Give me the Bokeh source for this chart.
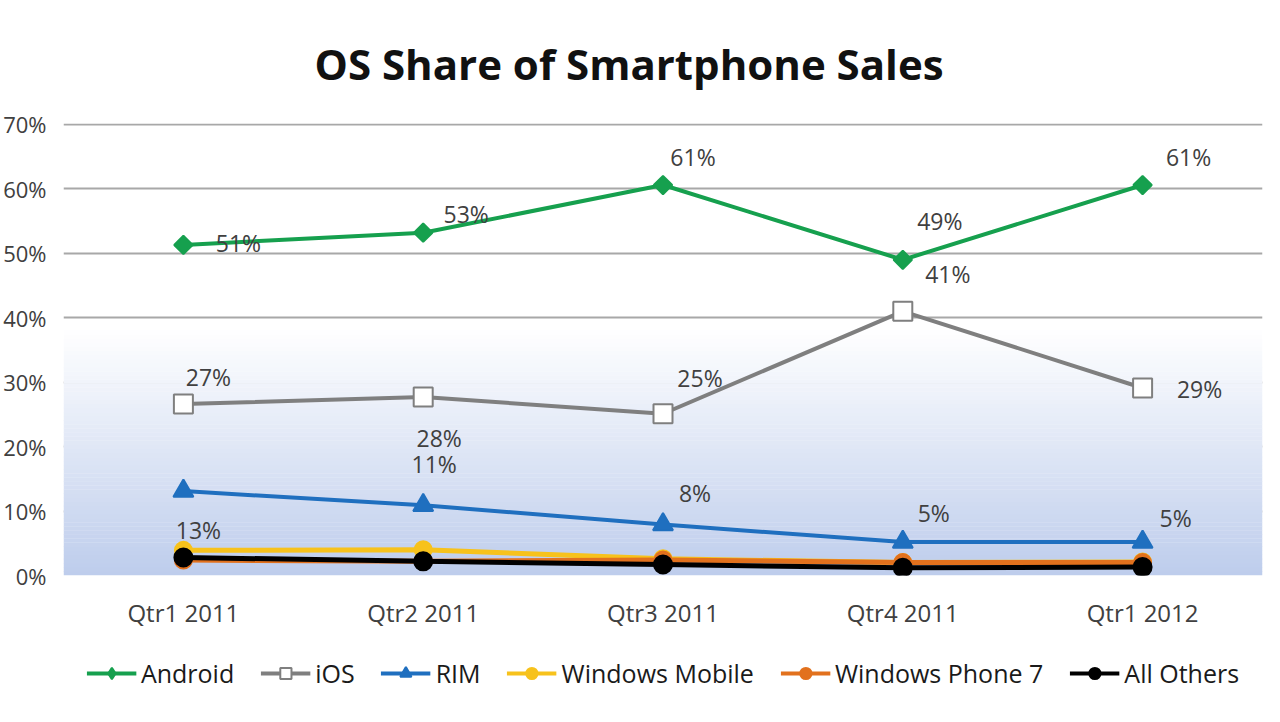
import math
from bokeh.plotting import figure
from bokeh.layouts import column
from bokeh.models import (FactorRange, Range1d, FixedTicker, PrintfTickFormatter,
                          Legend, LegendItem, BoxAnnotation, ColumnDataSource)
from bokeh.core.properties import value
from bokeh.embed import file_html
from bokeh.resources import INLINE

quarters = ["Qtr1 2011", "Qtr2 2011", "Qtr3 2011", "Qtr4 2011", "Qtr1 2012"]
android = [51.3, 53.2, 60.6, 49.0, 60.6]
ios = [26.6, 27.7, 25.1, 41.0, 29.1]
rim = [13.1, 10.9, 7.9, 5.2, 5.2]
windows_mobile = [3.9, 4.0, 2.6, 2.0, 2.1]
windows_phone7 = [2.4, 2.2, 2.4, 2.0, 2.0]
all_others = [2.8, 2.2, 1.7, 1.2, 1.3]
y_ticks = [0, 10, 20, 30, 40, 50, 60, 70]

FONT = "Open Sans"

fig = figure(x_range=FactorRange(*quarters, range_padding=0), y_range=Range1d(0, 70.15),
             width=1264, height=640, output_backend="svg", toolbar_location=None,
             min_border_left=57, min_border_right=2, min_border_top=121, min_border_bottom=65,
             title="OS Share of Smartphone Sales")
fig.outline_line_color = None
fig.background_fill_color = "white"
fig.border_fill_color = None

fig.title.align = "left"
fig.title.offset = 251
fig.title.text_font = FONT
fig.title.text_font_size = "42px"
fig.title.text_line_height = 1.0
fig.title.text_font_style = "bold"
fig.title.text_color = "#111111"
fig.title.standoff = 64

# gradient background in lower part of plot area
n = 60
g_top = 38.0
c0 = (190, 205, 236)
for i in range(n):
    t = i / n
    col = tuple(int(round(c0[k] + (255 - c0[k]) * t)) for k in range(3))
    fig.add_layout(BoxAnnotation(bottom=g_top * i / n, top=g_top * (i + 1) / n + 0.05,
                                 fill_color="#%02x%02x%02x" % col, fill_alpha=1.0,
                                 line_color=None, level="underlay"))

fig.xgrid.grid_line_color = None
fig.ygrid.ticker = FixedTicker(ticks=y_ticks)
fig.ygrid.grid_line_color = "#a8a8a8"
fig.ygrid.grid_line_width = 2

fig.yaxis.ticker = FixedTicker(ticks=y_ticks)
fig.yaxis.formatter = PrintfTickFormatter(format="%d%%")
for ax in (fig.xaxis[0], fig.yaxis[0]):
    ax.axis_line_color = None
    ax.major_tick_line_color = None
    ax.minor_tick_line_color = None
    ax.major_label_text_font = FONT
    ax.major_label_text_color = "#404040"
fig.xaxis.major_label_text_font_size = "24px"
fig.yaxis.major_label_text_font_size = "22px"
fig.yaxis.major_label_standoff = 11
fig.xaxis.major_label_standoff = 14

# name, values, line colour, line width, marker, size, fill, outline, angle
series = [
    ("Android", android, "#16a04e", 4, "square", 13, "#16a04e", "#16a04e", math.pi / 4),
    ("iOS", ios, "#7f7f7f", 4, "square", 19, "white", "#7f7f7f", 0.0),
    ("RIM", rim, "#1f6fbf", 4, "triangle", 20, "#1f6fbf", "#1f6fbf", 0.0),
    ("Windows Mobile", windows_mobile, "#f7c21c", 5, "circle", 17, "#f7c21c", "#f7c21c", 0.0),
    ("Windows Phone 7", windows_phone7, "#e2711d", 5, "circle", 17, "#e2711d", "#e2711d", 0.0),
    ("All Others", all_others, "#000000", 5, "circle", 18, "#000000", "#000000", 0.0),
]

# label offsets (screen px) for the annotated series
label_offsets = {
    "Android": ([55, 43, 30, 37, 46], [-2, -19, -28, -39, -28]),
    "iOS": ([25, 16, 37, 45, 57], [-27, 41, -36, -37, 1]),
    "RIM": ([15, 11, 32, 31, 33], [39, -41, -32, -29, -24]),
}

sources = []
for name, vals, color, lw, marker, size, fill, line, ang in series:
    src = ColumnDataSource(dict(x=quarters, y=vals))
    sources.append(src)
    fig.line("x", "y", source=src, line_color=color, line_width=lw)
    fig.scatter("x", "y", source=src, marker=marker, size=size, angle=ang,
                fill_color=fill, line_color=line, line_width=2)

for name, vals, *_ in series:
    if name in label_offsets:
        dx, dy = label_offsets[name]
        lsrc = ColumnDataSource(dict(x=quarters, y=vals,
                                     t=["%d%%" % round(v) for v in vals],
                                     dx=dx, dy=dy))
        fig.text("x", "y", text="t", source=lsrc, x_offset="dx", y_offset="dy",
                 text_font=value(FONT), text_font_size="23px", text_color="#404040",
                 text_align="center", text_baseline="middle")

# legend strip below the chart (its renderers share the data but sit out of view)
leg = figure(width=1264, height=66, x_range=FactorRange(*quarters), y_range=Range1d(500, 501),
             output_backend="svg", toolbar_location=None,
             x_axis_location=None, y_axis_location=None,
             min_border_left=0, min_border_right=0, min_border_top=0, min_border_bottom=0)
leg.outline_line_color = None
leg.grid.visible = False
leg.border_fill_color = None
leg.background_fill_color = None

items = []
for (name, vals, color, lw, marker, size, fill, line, ang), src in zip(series, sources):
    leg_marker = "diamond" if ang else marker
    r1 = leg.line("x", "y", source=src, line_color=color, line_width=4)
    r2 = leg.scatter("x", "y", source=src, marker=leg_marker, size=size,
                     fill_color=fill, line_color=line, line_width=2)
    items.append(LegendItem(label=name, renderers=[r1, r2]))

legend = Legend(items=items, orientation="horizontal", location="center")
legend.label_text_font = FONT
legend.label_text_font_size = "25px"
legend.label_text_color = "#1a1a1a"
legend.glyph_width = 50
legend.glyph_height = 28
legend.label_standoff = 5
legend.spacing = 26
legend.padding = 5
legend.margin = 0
legend.border_line_color = None
legend.background_fill_alpha = 0
leg.add_layout(legend, "center")

p = column(fig, leg)
open("out.html", "w").write(file_html(p, INLINE))
